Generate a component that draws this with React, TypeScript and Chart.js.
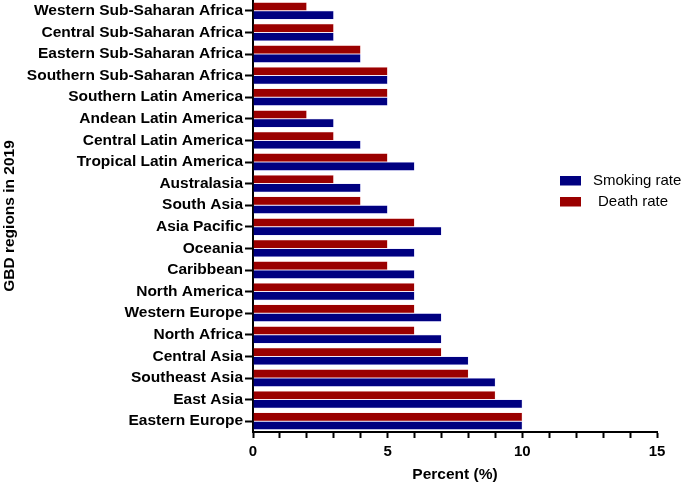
import React, { useEffect, useRef } from "react";
import { Chart, registerables } from "chart.js";

Chart.register(...registerables);

const regions = [
  "Western Sub-Saharan Africa",
  "Central Sub-Saharan Africa",
  "Eastern Sub-Saharan Africa",
  "Southern Sub-Saharan Africa",
  "Southern Latin America",
  "Andean Latin America",
  "Central Latin America",
  "Tropical Latin America",
  "Australasia",
  "South Asia",
  "Asia Pacific",
  "Oceania",
  "Caribbean",
  "North America",
  "Western Europe",
  "North Africa",
  "Central Asia",
  "Southeast Asia",
  "East Asia",
  "Eastern Europe",
];

const deathRate = [2, 3, 4, 5, 5, 2, 3, 5, 3, 4, 6, 5, 5, 6, 6, 6, 7, 8, 9, 10];
const smokingRate = [3, 3, 4, 5, 5, 3, 4, 6, 4, 5, 7, 6, 6, 6, 7, 7, 8, 9, 10, 10];

const xMajorTicks = [0, 5, 10, 15];

const NAVY = "#000080";
const RED = "#9a0000";
const FONT = "'Liberation Sans', Arial, Helvetica, sans-serif";

const legendPlugin = {
  id: "customLegend",
  afterDraw(chart: any) {
    const ctx = chart.ctx;
    const items = [
      { label: "Smoking rate", color: NAVY, y: 176, tx: 593 },
      { label: "Death rate", color: RED, y: 197, tx: 598 },
    ];
    ctx.save();
    ctx.font = `15px ${FONT}`;
    ctx.textBaseline = "middle";
    ctx.textAlign = "left";
    for (const it of items) {
      ctx.fillStyle = it.color;
      ctx.fillRect(560, it.y, 21, 9.5);
      ctx.fillStyle = "#000";
      ctx.fillText(it.label, it.tx, it.y + 5);
    }
    ctx.restore();
  },
};

export default function App() {
  const ref = useRef<HTMLCanvasElement>(null);
  useEffect(() => {
    document.body.style.margin = "0";
    const chart = new Chart(ref.current!, {
      type: "bar",
      data: {
        labels: regions,
        datasets: [
          {
            label: "Death rate",
            data: deathRate,
            backgroundColor: RED,
            borderColor: "rgba(255,160,160,0.5)",
            borderWidth: 0.5,
            categoryPercentage: 0.8,
            barPercentage: 1,
          },
          {
            label: "Smoking rate",
            data: smokingRate,
            backgroundColor: NAVY,
            borderColor: "rgba(150,150,255,0.5)",
            borderWidth: 0.5,
            categoryPercentage: 0.8,
            barPercentage: 1,
          },
        ],
      },
      options: {
        indexAxis: "y",
        animation: false,
        responsive: false,
        maintainAspectRatio: false,
        layout: { padding: { top: 0, right: 28, left: 0, bottom: 0 } },
        plugins: {
          legend: { display: false },
          tooltip: { enabled: false },
        },
        scales: {
          x: {
            type: "linear",
            min: 0,
            max: 15,
            ticks: {
              stepSize: 1,
              autoSkip: false,
              maxRotation: 0,
              color: "#000",
              padding: 5,
              font: { family: FONT, size: 15, weight: "bold" },
              callback: (v: any) => (xMajorTicks.includes(Number(v)) ? String(v) : ""),
            },
            grid: {
              drawOnChartArea: false,
              drawTicks: true,
              tickLength: 6,
              tickColor: "#000",
              tickWidth: 2,
            },
            border: { display: true, color: "#000", width: 2 },
            title: {
              display: true,
              text: "Percent (%)",
              color: "#000",
              font: { family: FONT, size: 15.5, weight: "bold" },
              padding: { top: 2, bottom: 0 },
            },
            afterFit: (s: any) => {
              s.height = 52;
            },
          },
          y: {
            type: "category",
            offset: true,
            ticks: {
              autoSkip: false,
              color: "#000",
              padding: 2,
              font: { family: FONT, size: 15.5, weight: "bold" },
            },
            grid: {
              offset: false,
              drawOnChartArea: false,
              drawTicks: true,
              tickLength: 8,
              tickColor: "#000",
              tickWidth: 2,
            },
            border: { display: true, color: "#000", width: 2 },
            title: {
              display: true,
              text: "GBD regions in 2019",
              color: "#000",
              font: { family: FONT, size: 15.5, weight: "bold" },
              padding: { top: 0, bottom: 0 },
            },
            afterFit: (s: any) => {
              s.width = 253;
              s.paddingTop = 0;
              s.paddingBottom = 0;
            },
          },
        },
      },
      plugins: [legendPlugin],
    } as any);
    return () => chart.destroy();
  }, []);
  return <canvas ref={ref} width={685} height={484} style={{ display: "block", width: 685, height: 484 }} />;
}
